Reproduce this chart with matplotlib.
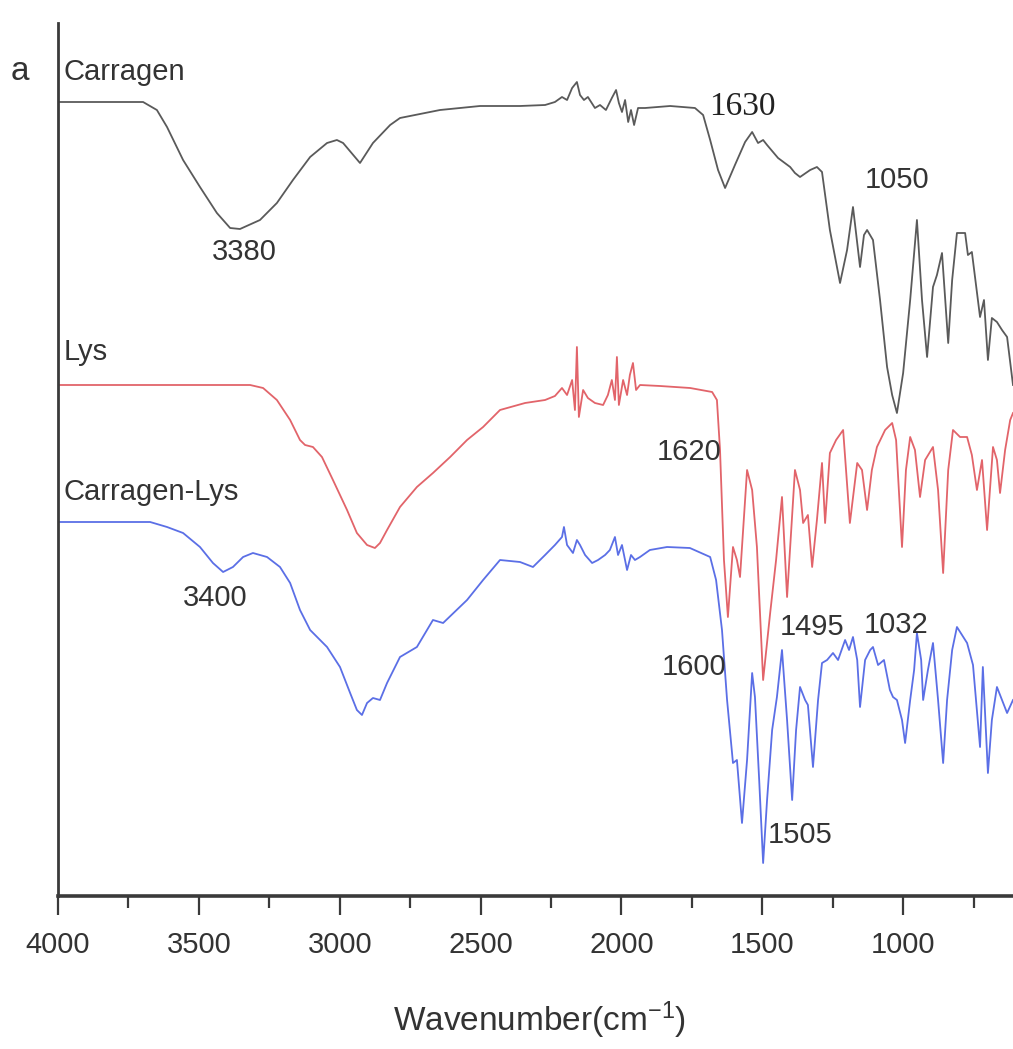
import matplotlib
matplotlib.use("Agg")
import matplotlib.pyplot as plt
from matplotlib.ticker import MultipleLocator, FixedLocator
from matplotlib import font_manager

# ---------------- data ----------------
carragen_wn = [4000, 3698, 3649, 3613, 3556, 3496, 3436, 3389, 3354, 3283, 3223, 3166, 3105, 3045,
               3010, 2988, 2928, 2882, 2821, 2786, 2644, 2502, 2360, 2271, 2236, 2211, 2193, 2175,
               2158, 2147, 2133, 2119, 2094, 2076, 2055, 2034, 2019, 2009, 1998, 1987, 1976, 1966,
               1955, 1941, 1916, 1827, 1739, 1710, 1685, 1657, 1632, 1597, 1561, 1536, 1515, 1497,
               1483, 1444, 1401, 1384, 1366, 1330, 1306, 1288, 1260, 1224, 1199, 1178, 1153, 1139,
               1128, 1107, 1082, 1057, 1039, 1022, 1000, 975, 951, 933, 915, 894, 880, 862, 840,
               826, 809, 780, 770, 756, 727, 713, 699, 685, 667, 649, 631, 610]
carragen_t = [794, 794, 786, 769, 736, 709, 683, 668, 667, 676, 693, 716, 739, 753,
              756, 753, 733, 753, 771, 778, 786, 790, 790, 791, 794, 799, 796, 808,
              814, 801, 796, 799, 788, 791, 786, 798, 806, 793, 784, 796, 774, 786,
              771, 788, 788, 790, 788, 781, 756, 726, 708, 731, 754, 764, 753, 756,
              751, 738, 729, 723, 719, 726, 729, 724, 666, 613, 646, 689, 629, 661,
              666, 656, 596, 529, 501, 483, 523, 596, 676, 596, 539, 609, 621, 643, 553,
              616, 663, 663, 641, 644, 579, 596, 536, 578, 574, 566, 559, 511]

lys_wn = [4000, 3673, 3318, 3272, 3223, 3176, 3141, 3123, 3095, 3063, 3024, 2974, 2939, 2903,
          2875, 2857, 2832, 2786, 2726, 2669, 2608, 2548, 2491, 2431, 2342, 2271, 2236, 2211,
          2193, 2175, 2165, 2158, 2151, 2136, 2119, 2094, 2065, 2048, 2034, 2023, 2016, 2009,
          1994, 1980, 1970, 1959, 1948, 1934, 1863, 1756, 1678, 1661, 1650, 1636, 1622, 1604,
          1590, 1579, 1554, 1536, 1519, 1497, 1472, 1451, 1430, 1412, 1384, 1366, 1355, 1338,
          1323, 1306, 1288, 1277, 1260, 1238, 1213, 1189, 1163, 1146, 1128, 1111, 1093, 1064,
          1039, 1025, 1004, 990, 975, 958, 940, 922, 894, 876, 858, 840, 823, 798, 773, 756,
          738, 720, 702, 681, 667, 656, 638, 620, 610]
lys_t = [511, 511, 511, 508, 496, 476, 456, 451, 449, 439, 416, 386, 363, 351,
         348, 353, 366, 389, 409, 423, 439, 456, 469, 486, 493, 496, 500, 508,
         501, 516, 486, 549, 479, 506, 498, 493, 491, 501, 516, 496, 539, 491,
         516, 501, 521, 533, 506, 511, 510, 508, 504, 496, 446, 336, 279, 349,
         336, 319, 426, 406, 349, 216, 283, 336, 399, 299, 426, 406, 373, 381,
         329, 376, 433, 373, 443, 456, 466, 373, 433, 426, 386, 426, 449, 466,
         473, 456, 349, 426, 459, 446, 399, 436, 449, 406, 323, 426, 466, 459, 459, 441,
         406, 436, 366, 449, 436, 403, 446, 476, 483]

cl_wn = [4000, 3673, 3613, 3556, 3496, 3450, 3414, 3379, 3343, 3308, 3258, 3212, 3176, 3141,
         3105, 3045, 2999, 2963, 2939, 2921, 2903, 2882, 2857, 2832, 2786, 2726, 2669, 2633,
         2548, 2491, 2431, 2360, 2314, 2271, 2236, 2211, 2204, 2193, 2172, 2158, 2147, 2129,
         2104, 2083, 2058, 2041, 2023, 2012, 1998, 1980, 1966, 1952, 1934, 1899, 1838, 1757,
         1685, 1664, 1643, 1625, 1604, 1590, 1572, 1554, 1536, 1526, 1511, 1497, 1483, 1465,
         1448, 1430, 1412, 1394, 1380, 1366, 1348, 1338, 1320, 1302, 1288, 1270, 1249, 1231,
         1206, 1192, 1178, 1163, 1153, 1135, 1117, 1107, 1089, 1068, 1047, 1036, 1022, 1004,
         993, 975, 961, 951, 936, 929, 912, 894, 876, 858, 844, 826, 809, 791, 773, 752,
         727, 717, 699, 685, 667, 649, 631, 610]
cl_t = [374, 374, 369, 363, 349, 333, 324, 329, 339, 343, 339, 329, 313, 286,
        266, 249, 229, 203, 186, 181, 193, 198, 196, 213, 239, 249, 276, 273,
        296, 316, 336, 334, 329, 341, 351, 359, 369, 351, 343, 356, 351, 341,
        333, 336, 341, 346, 359, 341, 351, 326, 341, 336, 339, 346, 349, 348,
        339, 316, 266, 196, 133, 136, 73, 136, 223, 199, 116, 33, 96, 166,
        199, 246, 176, 96, 166, 209, 196, 191, 129, 196, 233, 236, 243, 236,
        256, 246, 259, 236, 189, 236, 246, 249, 231, 236, 206, 199, 196, 176,
        153, 196, 226, 263, 236, 196, 226, 253, 196, 133, 196, 246, 269, 261, 253, 231,
        149, 229, 123, 176, 209, 196, 183, 196]

series_names = ["Carragen", "Lys", "Carragen-Lys"]
series_colors = ["#5a5a5a", "#e2646a", "#5b6fe6"]

peak_labels = ["3380", "1630", "1050", "3400", "1620", "1600", "1495", "1032", "1505"]
# where each peak label sits (x in wavenumber, y in plot units)
peak_label_x = [3340, 1570, 1022, 3443, 1760, 1742, 1323, 1025, 1366]
peak_label_y = [644, 789, 716, 298, 444, 229, 269, 271, 61]

xticks = [4000, 3500, 3000, 2500, 2000, 1500, 1000]

# ---------------- fonts ----------------
names = {f.name for f in font_manager.fontManager.ttflist}
sans = "Liberation Sans Narrow" if "Liberation Sans Narrow" in names else "Liberation Sans"
plt.rcParams["font.family"] = [sans, "DejaVu Sans"]
plt.rcParams["mathtext.fontset"] = "custom"
plt.rcParams["mathtext.rm"] = sans
plt.rcParams["mathtext.default"] = "regular"

W, H = 1013, 1049
fig = plt.figure(figsize=(W / 100, H / 100), dpi=100)
ax = fig.add_axes([58 / W, 1 - 896 / H, 1 - 58 / W, (896 - 23) / H])

for wn, t, c in zip([carragen_wn, lys_wn, cl_wn], [carragen_t, lys_t, cl_t], series_colors):
    ax.plot(wn, t, color=c, lw=1.3)

ax.set_xlim(4000, 610)
ax.set_ylim(0, 873)

for s in ["top", "right"]:
    ax.spines[s].set_visible(False)
for s in ["left", "bottom"]:
    ax.spines[s].set_color("#3a3a3a")
ax.spines["left"].set_linewidth(2.0)
ax.spines["bottom"].set_linewidth(2.6)

ax.set_yticks([])
ax.xaxis.set_major_locator(FixedLocator(xticks))
ax.xaxis.set_minor_locator(MultipleLocator(250))
ax.set_xticklabels([str(v) for v in xticks])
ax.tick_params(axis="x", which="major", direction="out", length=14, width=1.6,
               colors="#3a3a3a", labelsize=21, labelcolor="#333333", pad=11)
ax.tick_params(axis="x", which="minor", direction="out", length=8.5, width=1.6, colors="#3a3a3a")

# series names
name_pos_t = [824, 544, 404]
for n, t in zip(series_names, name_pos_t):
    ax.text(3980, t, n, ha="left", va="center", fontsize=21, color="#333333")

# peak annotations
for lab, x, y in zip(peak_labels, peak_label_x, peak_label_y):
    if lab == "1630":
        ax.text(x, y, lab, ha="center", va="center", fontsize=24, color="#222222",
                family=["Liberation Serif", "DejaVu Serif"])
    else:
        ax.text(x, y, lab, ha="center", va="center", fontsize=21, color="#333333")

fig.text(20 / W, 1 - 72 / H, "a", ha="center", va="center", fontsize=24, color="#333333")
fig.text(540 / W, 1 - 1020 / H, "Wavenumber(cm$^{-1}$)", ha="center", va="center",
         fontsize=24, color="#333333")

fig.savefig("out.png", dpi=100)
